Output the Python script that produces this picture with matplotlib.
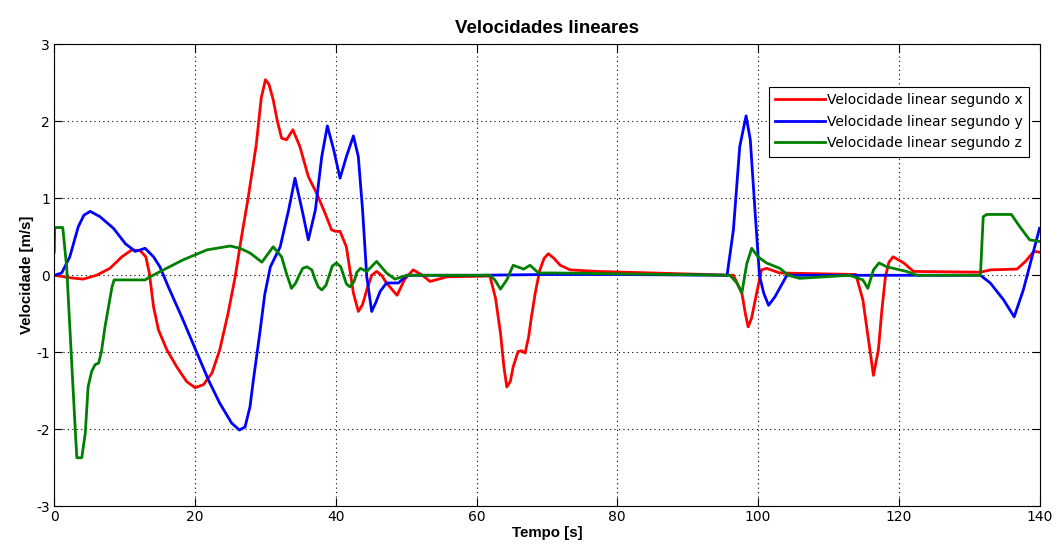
import numpy as np
import matplotlib
matplotlib.use("Agg")
import matplotlib.pyplot as plt

# velocidade linear segundo x
vx_t = [0, 2, 4.1, 6, 7.9, 9.6, 11, 12.2, 13, 13.5, 14.1, 14.8, 16, 17.4, 18.8, 20, 21.2, 22.4, 23.5, 24.7,
        25.7, 26.6, 27.5, 28.7, 29.4, 30, 30.5, 31.1, 31.7, 32.3, 33, 33.9, 34.9, 36.1, 37.3, 38.5, 39.4, 40, 40.6, 41.5,
        42.5, 43.2, 43.8, 44.4, 45.1, 45.8, 46.5, 47.2, 48.7, 49.8, 51, 52.3, 53.4, 55.8, 61.9, 62.7, 63.4, 63.9, 64.3, 64.8,
        65.2, 65.9, 66.4, 66.9, 67.4, 67.8, 68.4, 69, 69.6, 70.2, 71, 71.9, 73.3, 77.1, 85, 96.5, 97.7, 98.2, 98.6, 99.1,
        99.6, 100.5, 101.2, 103.1, 113.9, 114.9, 115.9, 116.4, 117.1, 117.6, 118.1, 118.6, 119.2, 120.7, 122.1, 131.6, 133, 136.8, 138, 139.2,
        140]
vx = [0, -0.03, -0.05, 0.0, 0.09, 0.24, 0.33, 0.32, 0.24, 0.03, -0.41, -0.71, -0.97, -1.19, -1.38, -1.46, -1.42, -1.27, -0.97, -0.49,
      -0.02, 0.5, 0.98, 1.7, 2.3, 2.54, 2.48, 2.28, 2.0, 1.78, 1.76, 1.89, 1.67, 1.28, 1.06, 0.8, 0.59, 0.57, 0.57, 0.37,
      -0.23, -0.47, -0.38, -0.19, 0.0, 0.05, 0.0, -0.1, -0.26, -0.05, 0.07, 0.0, -0.08, -0.02, -0.01, -0.3, -0.75, -1.2, -1.45, -1.38,
      -1.19, -0.99, -0.98, -1.01, -0.8, -0.54, -0.2, 0.07, 0.22, 0.28, 0.22, 0.13, 0.07, 0.05, 0.03, 0.0, -0.23, -0.5, -0.67, -0.55,
      -0.32, 0.07, 0.09, 0.03, 0.01, -0.32, -0.97, -1.3, -0.97, -0.45, -0.02, 0.17, 0.24, 0.16, 0.05, 0.04, 0.07, 0.08, 0.18, 0.31,
      0.3]

# velocidade linear segundo y
vy_t = [0, 1.05, 2.2, 3.4, 4.2, 5.1, 6.5, 8.4, 10.1, 11.5, 12.2, 12.9, 14.1, 15, 16.2, 18.1, 20, 21.9, 23.5, 25.2,
        26.3, 27.1, 27.8, 28.3, 29.2, 29.9, 30.7, 32.1, 33.3, 34.2, 35.2, 36.1, 37.1, 38, 38.8, 39.7, 40.6, 41.5, 42.5, 43.2,
        43.8, 44.4, 45.1, 45.7, 46.3, 47.2, 48.9, 50.1, 60, 70, 80, 95.6, 96.5, 97.4, 98.3, 98.9, 99.6, 100.2, 100.8, 101.5,
        102.4, 104.1, 131.6, 133, 134.9, 136.4, 137.7, 139.2, 140]
vy = [0, 0.03, 0.24, 0.63, 0.78, 0.83, 0.76, 0.61, 0.41, 0.31, 0.33, 0.35, 0.24, 0.11, -0.15, -0.54, -0.95, -1.36, -1.66, -1.92,
      -2.01, -1.97, -1.71, -1.35, -0.75, -0.25, 0.11, 0.37, 0.85, 1.26, 0.85, 0.46, 0.85, 1.54, 1.94, 1.63, 1.26, 1.54, 1.81, 1.54,
      0.85, -0.02, -0.47, -0.35, -0.21, -0.1, -0.1, 0.0, 0.0, 0.01, 0.01, 0.0, 0.59, 1.67, 2.07, 1.76, 0.8, 0.0, -0.23, -0.39,
      -0.28, 0.0, 0.0, -0.1, -0.32, -0.54, -0.19, 0.33, 0.61]

# velocidade linear segundo z
vz_t = [0, 0.05, 1.2, 1.75, 2.5, 3.0, 3.2, 3.9, 4.4, 4.8, 5.3, 5.8, 6.3, 6.7, 7.2, 7.7, 8.2, 8.5, 12.9, 13.6,
        15.5, 18.3, 21.7, 25, 26.4, 27.8, 29.5, 31.1, 32.3, 33.0, 33.7, 34.3, 34.8, 35.3, 35.9, 36.6, 37.0, 37.5, 38, 38.6,
        39.0, 39.5, 40.1, 40.7, 41.1, 41.5, 42, 42.6, 43.0, 43.5, 44.4, 45.8, 47.2, 48.4, 50.1, 61.9, 62.6, 63.4, 64.3, 65.2,
        66.7, 67.6, 68.8, 71, 96, 97, 97.7, 98.4, 99.1, 100, 101.2, 103.1, 104.3, 105.9, 113, 114.9, 115.6, 116.4, 117.2, 118.3,
        121.1, 122.6, 131.6, 132, 132.5, 136, 137.2, 138.6, 140]
vz = [0.3, 0.62, 0.62, 0.11, -1.19, -2.05, -2.37, -2.37, -2.05, -1.45, -1.25, -1.16, -1.14, -0.99, -0.67, -0.41, -0.15, -0.06, -0.06, -0.02,
      0.07, 0.2, 0.33, 0.38, 0.35, 0.29, 0.17, 0.37, 0.24, 0.02, -0.17, -0.1, 0.0, 0.09, 0.11, 0.07, -0.04, -0.15, -0.19, -0.13,
      -0.02, 0.12, 0.16, 0.11, 0.0, -0.11, -0.15, -0.08, 0.04, 0.09, 0.05, 0.18, 0.03, -0.05, 0.0, 0.0, -0.06, -0.18, -0.06, 0.13,
      0.08, 0.13, 0.03, 0.03, 0.0, -0.1, -0.23, 0.15, 0.35, 0.24, 0.16, 0.09, 0.0, -0.04, 0.0, -0.06, -0.17, 0.07, 0.16, 0.11,
      0.05, 0.0, 0.0, 0.76, 0.79, 0.79, 0.63, 0.46, 0.44]

labels = ["Velocidade linear segundo x", "Velocidade linear segundo y", "Velocidade linear segundo z"]

plt.rcParams['font.family'] = ['DejaVu Sans']
plt.rcParams['axes.unicode_minus'] = False

fig = plt.figure(figsize=(10.59, 5.5), dpi=100)
ax = fig.add_axes([0.0513, 0.0795, 0.9303, 0.84])
ax.plot(vx_t, vx, color=(1, 0, 0), lw=2, label=labels[0])
ax.plot(vy_t, vy, color=(0, 0, 1), lw=2, label=labels[1])
ax.plot(vz_t, vz, color=(0, 0.5, 0), lw=2, label=labels[2])

ax.set_xlim(0, 140)
ax.set_ylim(-3, 3)
ax.set_xticks(np.arange(0, 141, 20))
ax.set_yticks(np.arange(-3, 4, 1))
ax.grid(True, color='black', linestyle=(0, (1, 3)), linewidth=0.8)
ax.tick_params(direction='in', top=True, right=True, length=6, labelsize=10, pad=3)
for sp in ax.spines.values():
    sp.set_color('black')
    sp.set_linewidth(0.8)

ax.set_title("Velocidades lineares", fontsize=13.5, fontweight='bold', pad=8,
             family=['Liberation Sans', 'DejaVu Sans'])
ax.set_xlabel("Tempo [s]", fontsize=10.8, fontweight='bold', labelpad=1,
              family=['Liberation Sans', 'DejaVu Sans'])
ax.set_ylabel("Velocidade [m/s]", fontsize=10.8, fontweight='bold', labelpad=2,
              family=['Liberation Sans', 'DejaVu Sans'])

leg = ax.legend(loc='upper right', bbox_to_anchor=(0.989, 0.908), fontsize=10, handlelength=3.6,
                handletextpad=0.1, labelspacing=0.55, borderpad=0.45, borderaxespad=0,
                fancybox=False, framealpha=1, edgecolor='black')
leg.get_frame().set_linewidth(0.8)

fig.savefig("out.png", dpi=100)
